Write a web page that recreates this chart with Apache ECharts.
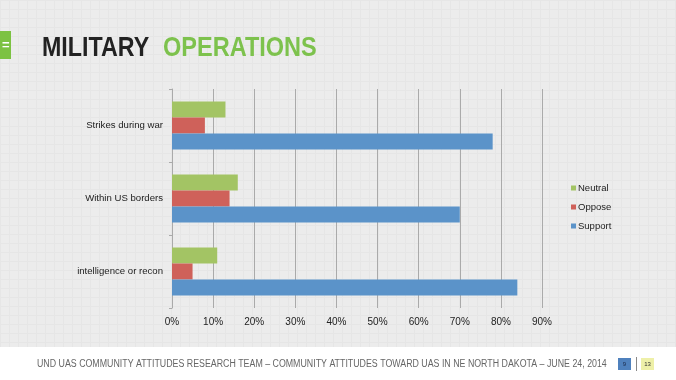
<!DOCTYPE html>
<html>
<head>
<meta charset="utf-8">
<script src="https://cdn.jsdelivr.net/npm/echarts@6/dist/echarts.min.js"></script>
<style>
html,body{margin:0;padding:0;}
#main{width:676px;height:380px;
background-color:#ececec;
background-image:linear-gradient(#e6e6e6 1px, transparent 1px),linear-gradient(90deg,#e6e6e6 1px, transparent 1px);
background-size:9px 9px;}
</style>
</head>
<body>
<div id="main"></div>
<script>
// categories listed bottom to top
var categories = ['intelligence or recon', 'Within US borders', 'Strikes during war'];
var supportValues = [84, 70, 78];
var opposeValues = [5, 14, 8];
var neutralValues = [11, 16, 13];
var xTicks = [0, 10, 20, 30, 40, 50, 60, 70, 80, 90];

var chart = echarts.init(document.getElementById('main'), null, {renderer:'canvas'});
var font = 'Liberation Sans, Arial, Helvetica, sans-serif';
chart.setOption({
  backgroundColor: 'transparent',
  animation: false,
  textStyle: {fontFamily: font},
  grid: {left: 172, right: 134, top: 89, bottom: 72, containLabel: false},
  legend: {
    orient: 'vertical', left: 566, top: 178,
    data: ['Neutral', 'Oppose', 'Support'],
    itemWidth: 5, itemHeight: 5, itemGap: 9,
    icon: 'rect',
    textStyle: {fontSize: 9.5, color: '#222', padding: [0,0,0,-3]}
  },
  xAxis: {
    type: 'value', min: xTicks[0], max: xTicks[xTicks.length-1], interval: 10,
    axisLine: {show: false},
    axisTick: {show: false},
    splitLine: {show: true, lineStyle: {color: '#aaaaaa', width: 1}},
    axisLabel: {formatter: '{value}%', fontSize: 10, color: '#222', margin: 9}
  },
  yAxis: {
    type: 'category', data: categories,
    axisLine: {show: true, lineStyle: {color: '#aaaaaa'}},
    axisTick: {show: true, length: 3, lineStyle: {color: '#aaaaaa'}},
    axisLabel: {fontSize: 9.6, color: '#222', margin: 9}
  },
  series: [
    {name: 'Neutral', type: 'bar', data: neutralValues, barWidth: 16, barGap: '0%', barCategoryGap: '33%', itemStyle: {color: '#a3c464'}},
    {name: 'Oppose', type: 'bar', data: opposeValues, barWidth: 16, barGap: '0%', itemStyle: {color: '#cf615a'}},
    {name: 'Support', type: 'bar', data: supportValues, barWidth: 16, barGap: '0%', itemStyle: {color: '#5b93c9'}}
  ],
  graphic: [
    {type: 'rect', shape: {x: 0, y: 31, width: 11, height: 28}, style: {fill: '#7cc242'}},
    {type: 'text', x: 2, y: 45, style: {text: '=', fill: '#fff', font: 'bold 13px ' + font, verticalAlign: 'middle'}},
    {type: 'text', x: 42, y: 48, scaleX: 0.83,
      style: {text: 'MILITARY', fill: '#222222', font: 'bold 28px ' + font, verticalAlign: 'middle'}},
    {type: 'text', x: 163, y: 48, scaleX: 0.84,
      style: {text: 'OPERATIONS', fill: '#7dc24d', font: 'bold 28px ' + font, verticalAlign: 'middle'}},
    {type: 'rect', shape: {x: 0, y: 347, width: 676, height: 33}, style: {fill: '#ffffff'}},
    {type: 'text', x: 37, y: 364, scaleX: 0.882,
      style: {text: 'UND UAS COMMUNITY ATTITUDES RESEARCH TEAM \u2013 COMMUNITY ATTITUDES TOWARD UAS IN NE NORTH DAKOTA \u2013 JUNE 24, 2014', fill: '#666666', font: '10px ' + font, verticalAlign: 'middle'}},
    {type: 'rect', shape: {x: 618, y: 358, width: 13, height: 12}, style: {fill: '#4f81bd'}},
    {type: 'text', x: 624.5, y: 364, style: {text: '9', fill: '#1a2a4a', font: '6px ' + font, align: 'center', verticalAlign: 'middle'}},
    {type: 'rect', shape: {x: 636, y: 357, width: 1, height: 14}, style: {fill: '#888'}},
    {type: 'rect', shape: {x: 641, y: 358, width: 13, height: 12}, style: {fill: '#eef0a8'}},
    {type: 'text', x: 647.5, y: 364, style: {text: '13', fill: '#333', font: '6px ' + font, align: 'center', verticalAlign: 'middle'}}
  ]
});
</script>
</body>
</html>
